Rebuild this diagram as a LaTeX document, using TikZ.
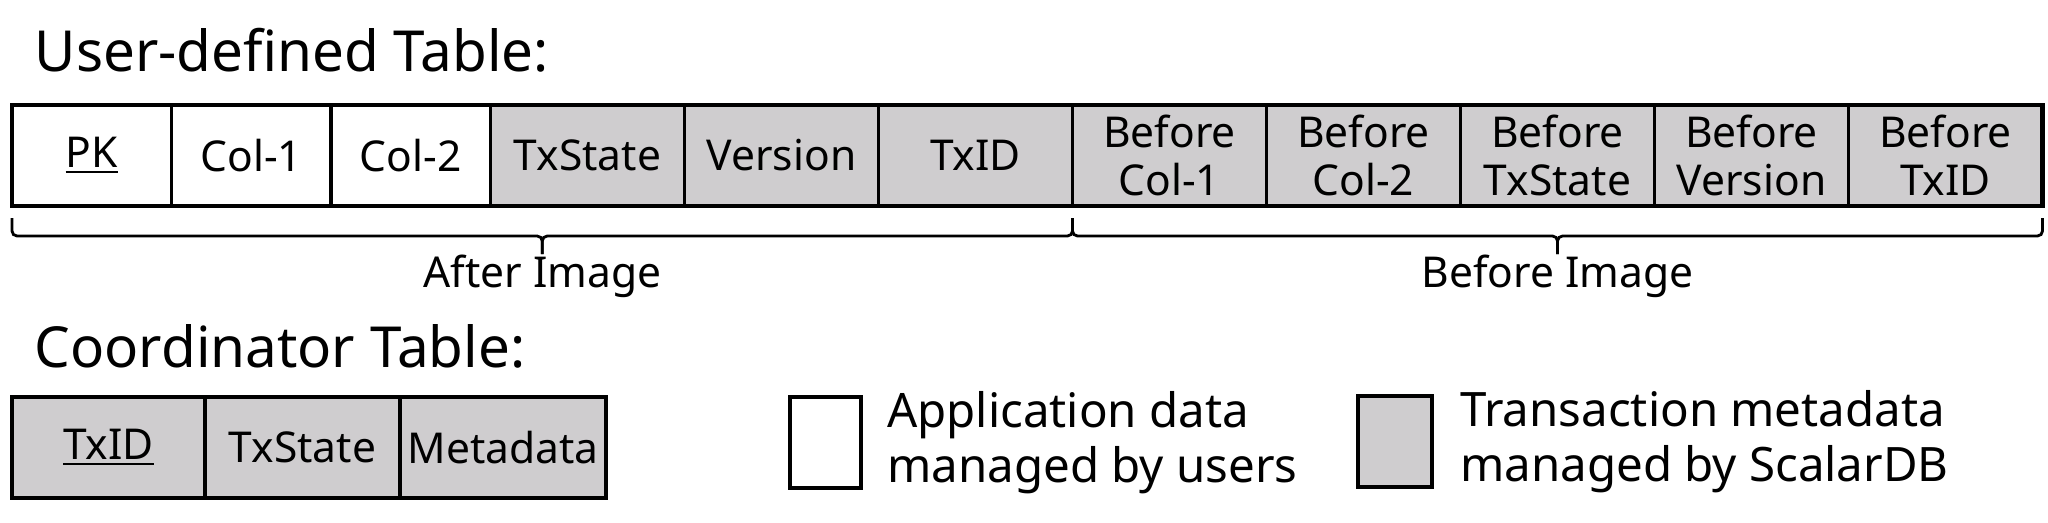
\documentclass[tikz,border=0pt]{standalone}
\usepackage{fontspec}
\setmainfont{Noto Sans}
\usepackage{tikz}
\usetikzlibrary{positioning, calc}
\definecolor{metagray}{HTML}{CFCDCF}

\begin{document}
\begin{tikzpicture}[
    cell/.style={draw, line width=0.95pt, inner sep=0pt, outer sep=0pt, minimum height=1.01cm, align=center, font=\fontsize{12.1pt}{13.7pt}\selectfont},
    appcell/.style={cell, fill=white, minimum width=1.595cm},
    metacell/.style={cell, fill=metagray, minimum width=1.94cm},
    frame/.style={draw, line width=1.35pt},
    heading/.style={anchor=base west, inner sep=0pt, font=\fontsize{16.1pt}{19pt}\selectfont},
    legendbox/.style={draw, line width=1.4pt, minimum width=0.71cm, minimum height=0.91cm, inner sep=0pt},
    legendtext/.style={align=left, inner sep=0pt, font=\fontsize{13.5pt}{15.6pt}\selectfont},
    imagebrace/.style={draw, line width=0.8pt, rounded corners=0.05cm},
    bracelabel/.style={anchor=base, inner sep=0pt, font=\fontsize{12.1pt}{13.7pt}\selectfont},
]
    \useasboundingbox (0,0) rectangle (20.48,-5.22);

    % User-defined table
    \node[heading] (usertitle) at (0.34,-0.71) {User-defined Table:};
    \node[appcell, anchor=north west] (pk) at (0.12,-1.05) {\underline{PK}};
    \node[appcell, right=0pt of pk] (col1) {Col-1};
    \node[appcell, right=0pt of col1] (col2) {Col-2};
    \node[metacell, right=0pt of col2] (txstate) {TxState};
    \node[metacell, right=0pt of txstate] (version) {Version};
    \node[metacell, right=0pt of version] (txid) {TxID};
    \node[metacell, right=0pt of txid] (bcol1) {Before\\Col-1};
    \node[metacell, right=0pt of bcol1] (bcol2) {Before\\Col-2};
    \node[metacell, right=0pt of bcol2] (btxstate) {Before\\TxState};
    \node[metacell, right=0pt of btxstate] (bversion) {Before\\Version};
    \node[metacell, right=0pt of bversion] (btxid) {Before\\TxID};
    \draw[frame] (pk.north west) rectangle (btxid.south east);

    % Braces
    \coordinate (afterstart) at ([yshift=-0.12cm]pk.south west);
    \coordinate (afterend) at ([yshift=-0.12cm]txid.south east);
    \coordinate (aftermid) at ($(afterstart)!0.5!(afterend)$);
    \draw[imagebrace] (afterstart) |- ($(aftermid)+(0,-0.18)$) -- ($(aftermid)+(0,-0.36)$);
    \draw[imagebrace] (afterend) |- ($(aftermid)+(0,-0.18)$) -- ($(aftermid)+(0,-0.36)$);
    \node[bracelabel] (afterlabel) at ($(aftermid)+(0,-0.69)$) {After Image};

    \coordinate (beforestart) at ([yshift=-0.12cm]bcol1.south west);
    \coordinate (beforeend) at ([yshift=-0.12cm]btxid.south east);
    \coordinate (beforemid) at ($(beforestart)!0.5!(beforeend)$);
    \draw[imagebrace] (beforestart) |- ($(beforemid)+(0,-0.18)$) -- ($(beforemid)+(0,-0.36)$);
    \draw[imagebrace] (beforeend) |- ($(beforemid)+(0,-0.18)$) -- ($(beforemid)+(0,-0.36)$);
    \node[bracelabel] (beforelabel) at ($(beforemid)+(0,-0.69)$) {Before Image};

    % Coordinator table
    \node[heading] (coordtitle) at (0.34,-3.67) {Coordinator Table:};
    \node[cell, fill=metagray, minimum width=1.93cm, anchor=north west] (ctxid) at (0.12,-3.97) {\underline{TxID}};
    \node[cell, fill=metagray, minimum width=1.95cm, right=0pt of ctxid] (ctxstate) {TxState};
    \node[cell, fill=metagray, minimum width=2.06cm, right=0pt of ctxstate] (cmeta) {Metadata};
    \draw[frame] (ctxid.north west) rectangle (cmeta.south east);

    % Legend
    \node[legendbox, fill=white] (appbox) at (8.255,-4.425) {};
    \node[legendtext, right=0.23cm of appbox] (apptext) {Application data\\managed by users};
    \node[legendbox, fill=metagray, minimum width=0.74cm] (metabox) at (13.95,-4.415) {};
    \node[legendtext, right=0.25cm of metabox] (metatext) {Transaction metadata\\managed by ScalarDB};
\end{tikzpicture}
\end{document}
